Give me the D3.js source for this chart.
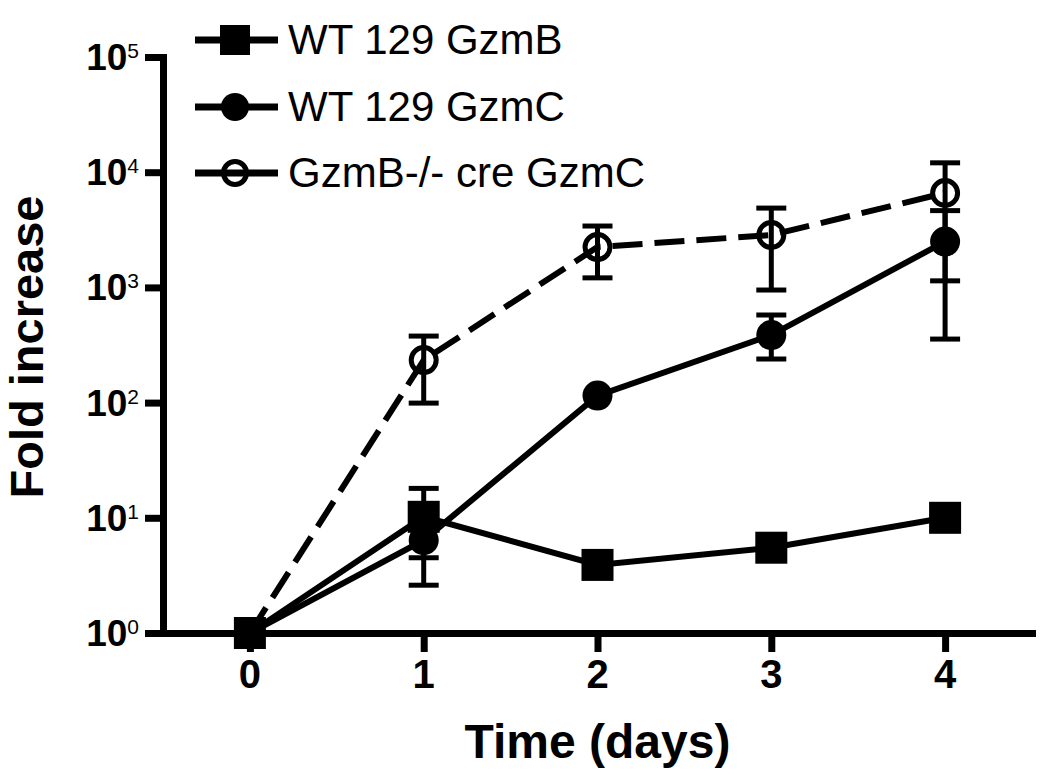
<!DOCTYPE html>
<html>
<head>
<meta charset="utf-8">
<script src="https://cdn.jsdelivr.net/npm/d3@7/dist/d3.min.js"></script>
<style>
  html, body { margin: 0; padding: 0; background: #fff; }
  svg { display: block; }
  text { font-family: "Liberation Sans", Arial, sans-serif; fill: #000; }
</style>
</head>
<body>
<svg id="chart" width="1050" height="784"></svg>
<script>
// ---- data ----
const days = [0, 1, 2, 3, 4];
const xTicks = [0, 1, 2, 3, 4];
const yTicks = [1, 10, 100, 1000, 10000, 100000];
const yTickExp = ["0", "1", "2", "3", "4", "5"];
const seriesNames = ["WT 129 GzmB", "WT 129 GzmC", "GzmB-/- cre GzmC"];

const gzmB     = [1, 10.2, 3.9, 5.5, 10];
const gzmBLo   = [null, 2.6, null, null, null];
const gzmBHi   = [null, 18, null, null, null];

const gzmC     = [1, 6.4, 115, 386, 2500];
const gzmCLo   = [null, 4.5, null, 239, 356];
const gzmCHi   = [null, 8.3, null, 576, 4640];

const koGzmC   = [1, 234, 2240, 2850, 6600];
const koGzmCLo = [null, 99, 1210, 949, 1140];
const koGzmCHi = [null, 378, 3410, 4880, 12060];

const xTitle = "Time (days)";
const yTitle = "Fold increase";

// ---- layout ----
const svg = d3.select("#chart");
const x = d3.scaleLinear().domain([-0.5, 4.5]).range([163, 1032]);
const y = d3.scaleLog().domain([1, 100000]).range([633, 57]);

const series = [
  { name: seriesNames[0], v: gzmB, lo: gzmBLo, hi: gzmBHi, marker: "square", dash: null },
  { name: seriesNames[1], v: gzmC, lo: gzmCLo, hi: gzmCHi, marker: "circle", dash: null },
  { name: seriesNames[2], v: koGzmC, lo: koGzmCLo, hi: koGzmCHi, marker: "open", dash: "30,12" }
];

// ---- axes ----
const yAxis = d3.axisLeft(y).tickValues(yTicks).tickSize(18).tickSizeOuter(0).tickFormat(() => "");
const gy = svg.append("g").attr("transform", "translate(163,0)").call(yAxis);
gy.select(".domain").attr("stroke", "#000").attr("stroke-width", 7).attr("stroke-linecap", "square");
gy.selectAll(".tick line").attr("stroke", "#000").attr("stroke-width", 7);

const xAxis = d3.axisBottom(x).tickValues(xTicks).tickSize(19).tickSizeOuter(0).tickFormat(() => "");
const gx = svg.append("g").attr("transform", "translate(0,633)").call(xAxis);
gx.select(".domain").attr("stroke", "#000").attr("stroke-width", 7).attr("stroke-linecap", "square");
gx.selectAll(".tick line").attr("stroke", "#000").attr("stroke-width", 7);

// y tick labels 10^n
const yl = svg.append("g").selectAll("text").data(yTicks).join("text")
  .attr("x", 139).attr("y", d => y(d) + 13)
  .attr("text-anchor", "end")
  .style("font-size", "37px").style("font-weight", "bold");
yl.append("tspan").text("10");
yl.append("tspan").attr("dy", -12).style("font-size", "21px").style("font-weight", "normal")
  .text((d, i) => yTickExp[i]);

// x tick labels
svg.append("g").selectAll("text").data(xTicks).join("text")
  .attr("x", d => x(d)).attr("y", 688)
  .attr("text-anchor", "middle")
  .style("font-size", "40px").style("font-weight", "bold")
  .text(d => d);

// axis titles
svg.append("text").attr("x", x(2)).attr("y", 758).attr("text-anchor", "middle")
  .style("font-size", "48px").style("font-weight", "bold").text(xTitle);
svg.append("text").attr("transform", "translate(43,347) rotate(-90)").attr("text-anchor", "middle")
  .style("font-size", "47px").style("font-weight", "bold").text(yTitle);

// ---- error bars ----
const capW = 15;
const eb = svg.append("g").attr("stroke", "#000").attr("stroke-width", 5);
series.forEach(s => {
  days.forEach((d, i) => {
    if (s.lo[i] == null) return;
    const cx = x(d);
    eb.append("line").attr("x1", cx).attr("x2", cx).attr("y1", y(s.lo[i])).attr("y2", y(s.hi[i]));
    eb.append("line").attr("x1", cx - capW).attr("x2", cx + capW).attr("y1", y(s.lo[i])).attr("y2", y(s.lo[i]));
    eb.append("line").attr("x1", cx - capW).attr("x2", cx + capW).attr("y1", y(s.hi[i])).attr("y2", y(s.hi[i]));
  });
});

// ---- lines ----
const line = d3.line().x((d, i) => x(days[i])).y(d => y(d));
series.forEach(s => {
  svg.append("path").attr("d", line(s.v)).attr("fill", "none").attr("stroke", "#000")
    .attr("stroke-width", 6).attr("stroke-dasharray", s.dash);
});

// ---- markers ----
function drawMarker(g, type, cx, cy, size) {
  if (type === "square") {
    g.append("rect").attr("x", cx - size).attr("y", cy - size).attr("width", size * 2).attr("height", size * 2).attr("fill", "#000");
  } else if (type === "circle") {
    g.append("circle").attr("cx", cx).attr("cy", cy).attr("r", size).attr("fill", "#000");
  } else {
    g.append("circle").attr("cx", cx).attr("cy", cy).attr("r", size - 2.5).attr("fill", "none")
      .attr("stroke", "#000").attr("stroke-width", 5);
  }
}
const mk = svg.append("g");
series.forEach(s => {
  days.forEach((d, i) => drawMarker(mk, s.marker, x(d), y(s.v[i]), s.marker === "square" ? 16 : 15));
});

// ---- legend ----
const legendY = [40, 107, 173];
const lg = svg.append("g");
series.forEach((s, i) => {
  const ly = legendY[i];
  lg.append("line").attr("x1", 195).attr("x2", 278).attr("y1", ly).attr("y2", ly)
    .attr("stroke", "#000").attr("stroke-width", 7);
  drawMarker(lg, s.marker, 235, ly, s.marker === "square" ? 15 : 14);
  lg.append("text").attr("x", 288).attr("y", ly + 14).style("font-size", "42px").text(s.name);
});
</script>
</body>
</html>
